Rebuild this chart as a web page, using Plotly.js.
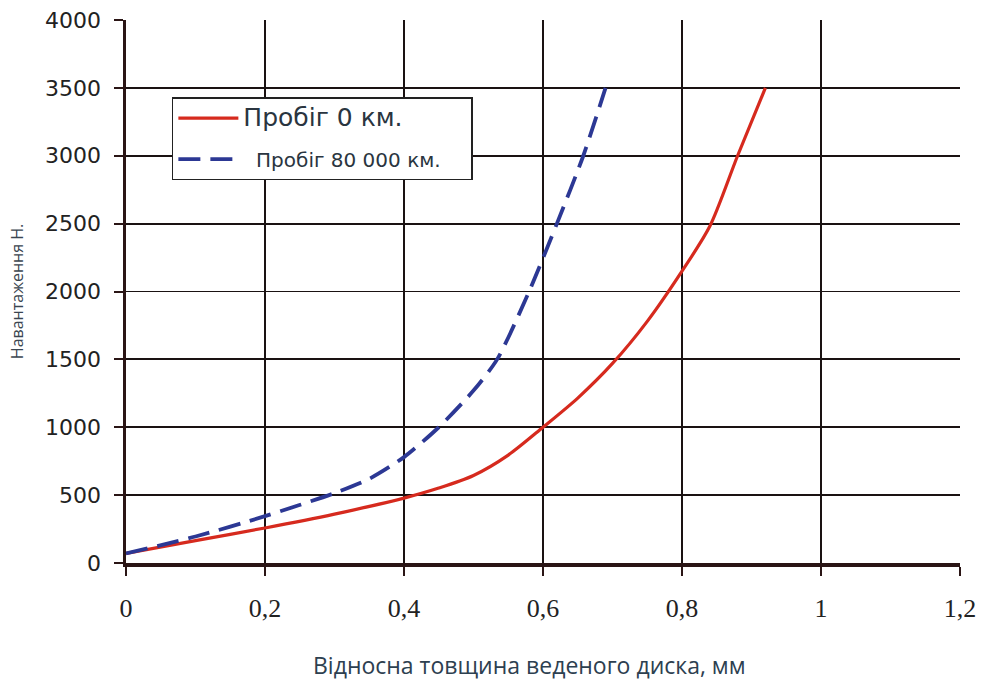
<!DOCTYPE html>
<html>
<head>
<meta charset="utf-8">
<script src="https://cdn.plot.ly/plotly-3.0.1.min.js"></script>
<style>html,body{margin:0;padding:0;background:#fff;}#chart{width:985px;height:680px;}</style>
</head>
<body>
<div id="chart"></div>
<script>
const x0km = [0, 0.1, 0.2, 0.3, 0.4, 0.45, 0.5, 0.55, 0.6, 0.65, 0.7, 0.75, 0.8, 0.84, 0.88, 0.92];
const y0km = [70, 165, 258, 360, 478, 552, 645, 795, 1000, 1215, 1470, 1780, 2150, 2480, 3000, 3500];
const x80k = [0, 0.1, 0.2, 0.3, 0.35, 0.4, 0.45, 0.5, 0.534, 0.58, 0.62, 0.658, 0.69];
const y80k = [70, 195, 345, 515, 620, 780, 1000, 1270, 1500, 2000, 2500, 3000, 3500];
const name0 = "Пробіг 0 км.";
const name80 = "Пробіг 80 000 км.";
const xTitle = 'Відносна товщина веденого диска, мм';
const yTitle = 'Навантаження Н.';
const xTicks = [0, 0.2, 0.4, 0.6, 0.8, 1, 1.2];
const xTickText = ['0', '0,2', '0,4', '0,6', '0,8', '1', '1,2'];
const yTicks = [0, 500, 1000, 1500, 2000, 2500, 3000, 3500, 4000];

const traces = [
  {x: x0km, y: y0km, type: 'scatter', mode: 'lines', legendgroup: 'g0',
   name: "<span style='font-size:25px'>" + name0 + "</span>",
   line: {color: '#d62a1e', width: 3.2, shape: 'spline', smoothing: 0.8}},
  {x: x80k, y: y80k, type: 'scatter', mode: 'lines', legendgroup: 'g80',
   name: "<span style='font-size:20px'>  " + name80 + "\u00A0\u00A0\u00A0\u00A0</span>",
   line: {color: '#2c3894', width: 3.8, dash: '22px,10px', shape: 'spline', smoothing: 0.7}}
];

const layout = {
  width: 985, height: 680,
  paper_bgcolor: '#ffffff', plot_bgcolor: '#ffffff',
  separators: ', ',
  margin: {l: 126, r: 25, t: 20, b: 117},
  font: {family: 'DejaVu Sans, sans-serif', color: '#222'},
  showlegend: true,
  legend: {x: 0.055, y: 0.858, xanchor: 'left', yanchor: 'top',
    bgcolor: '#ffffff', bordercolor: '#222', borderwidth: 1.5,
    font: {family: 'DejaVu Sans, sans-serif', size: 20, color: '#2a3540'},
    tracegroupgap: 12, itemwidth: 60},
  xaxis: {
    range: [0, 1.2], tickvals: xTicks, ticktext: xTickText,
    showgrid: true, gridcolor: '#1a1212', gridwidth: 1.8,
    showline: true, linecolor: '#2a1515', linewidth: 3.5, mirror: false,
    ticks: 'outside', ticklen: 9, tickwidth: 2, tickcolor: '#2a1515',
    ticklabelstandoff: 10,
    tickfont: {family: 'Liberation Serif, serif', size: 26, color: '#222'},
    zeroline: false
  },
  yaxis: {
    range: [0, 4000], tickvals: yTicks,
    showgrid: true, gridcolor: '#1a1212', gridwidth: 1.8,
    showline: true, linecolor: '#2a1515', linewidth: 3.5,
    ticks: 'outside', ticklen: 9, tickwidth: 2, tickcolor: '#2a1515',
    ticklabelstandoff: 8,
    tickfont: {family: 'DejaVu Sans, sans-serif', size: 22, color: '#222'},
    zeroline: false,
    title: {text: yTitle, standoff: 18,
      font: {family: 'Open Sans, sans-serif', size: 16, color: '#3a4550'}}
  },
  annotations: [
    {text: xTitle, xref: 'paper', yref: 'paper', x: 0.484, y: -0.188,
     xanchor: 'center', yanchor: 'middle', showarrow: false,
     font: {family: 'Open Sans, sans-serif', size: 23, color: '#2d4050'}}
  ]
};

Plotly.newPlot('chart', traces, layout, {displayModeBar: false, staticPlot: true});
</script>
</body>
</html>
